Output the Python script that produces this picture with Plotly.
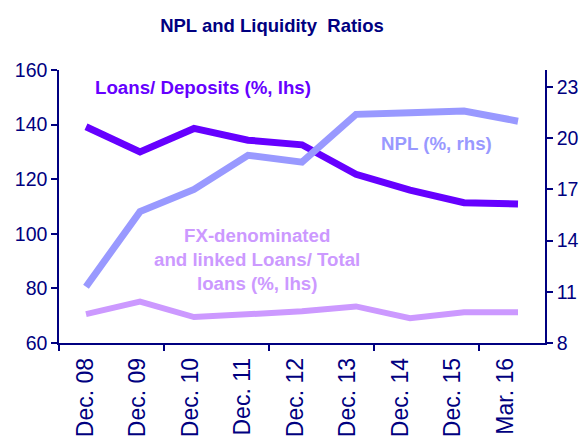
import plotly.graph_objects as go

categories = ["Dec. 08", "Dec. 09", "Dec. 10", "Dec. 11", "Dec. 12",
              "Dec. 13", "Dec. 14", "Dec. 15", "Mar. 16"]
loans_deposits = [139.2, 130.0, 138.6, 134.3, 132.6, 121.8, 116.0, 111.4, 110.9]
fx_loans = [70.6, 75.2, 69.5, 70.6, 71.6, 73.4, 69.1, 71.3, 71.3]
npl = [11.3, 15.7, 17.0, 19.0, 18.6, 21.4, 21.5, 21.6, 21.0]
left_ticks = [60, 80, 100, 120, 140, 160]
right_ticks = [8, 11, 14, 17, 20, 23]

NAVY = "#000080"
C_LOANS = "#6600FF"
C_NPL = "#9999FF"
C_FX = "#CC99FF"
FONT = "Liberation Sans, Arial, sans-serif"

idx = list(range(len(categories)))

fig = go.Figure()
fig.add_trace(go.Scatter(x=idx, y=fx_loans, mode="lines", line=dict(color=C_FX, width=6),
                         xaxis="x", yaxis="y", hoverinfo="skip"))
fig.add_trace(go.Scatter(x=idx, y=loans_deposits, mode="lines", line=dict(color=C_LOANS, width=7),
                         xaxis="x", yaxis="y", hoverinfo="skip"))
fig.add_trace(go.Scatter(x=idx, y=npl, mode="lines", line=dict(color=C_NPL, width=7),
                         xaxis="x", yaxis="y2", hoverinfo="skip"))
# carrier for the label axis
fig.add_trace(go.Scatter(x=idx, y=[None] * len(idx), mode="lines", xaxis="x2", yaxis="y",
                         hoverinfo="skip"))

W, H = 587, 441
L, R, T, B = 59, 42, 70, 98
pw, ph = W - L - R, H - T - B

def px(xp):
    return (xp - L) / pw

def py(yp):
    return (H - B - yp) / ph

fig.update_layout(
    width=W, height=H, showlegend=False,
    margin=dict(l=L, r=R, t=T, b=B, autoexpand=False),
    paper_bgcolor="white", plot_bgcolor="white",
    title=dict(text="NPL and Liquidity\u00a0 Ratios", x=272 / W, xanchor="center",
               y=1 - 26 / H, yanchor="middle",
               font=dict(family=FONT, size=18.5, color=NAVY, weight="bold")),
    xaxis=dict(range=[-0.5, len(categories) - 0.5], visible=False, fixedrange=True,
               automargin=False),
    xaxis2=dict(overlaying="x", side="bottom", anchor="y", automargin=False,
                range=[-0.5, 8.757], tickmode="array", tickvals=idx, ticktext=categories,
                tickangle=-90, ticks="", showline=True, linecolor=NAVY, linewidth=1.5,
                showgrid=False, zeroline=False, ticklabelstandoff=4,
                tickfont=dict(family=FONT, size=23, color=NAVY),
                minor=dict(tickmode="array", tickvals=[-0.5, 1.5, 3.5, 5.5, 7.5],
                           ticks="outside", ticklen=6, tickwidth=1.5, tickcolor=NAVY,
                           showgrid=False)),
    yaxis=dict(range=[60, 160], tickmode="array", tickvals=left_ticks, automargin=False,
               ticks="outside", ticklen=6, tickwidth=1.5, tickcolor=NAVY,
               showline=True, linecolor=NAVY, linewidth=1.5, showgrid=False, zeroline=False,
               tickfont=dict(family=FONT, size=19.5, color=NAVY)),
    yaxis2=dict(range=[8, 24], overlaying="y", side="right", anchor="x", automargin=False,
                tickmode="array", tickvals=right_ticks,
                ticks="outside", ticklen=6, tickwidth=1.5, tickcolor=NAVY,
                showline=True, linecolor=NAVY, linewidth=1.5, showgrid=False, zeroline=False,
                tickfont=dict(family=FONT, size=19.5, color=NAVY)),
)

ann_font = dict(family=FONT, size=18.7, weight="bold")
fig.add_annotation(text="Loans/ Deposits (%, lhs)", xref="paper", yref="paper",
                   x=px(93), y=py(87), xanchor="left", yanchor="middle", showarrow=False,
                   font=dict(**ann_font, color=C_LOANS))
fig.add_annotation(text="NPL (%, rhs)", xref="paper", yref="paper",
                   x=px(436), y=py(143), xanchor="center", yanchor="middle", showarrow=False,
                   font=dict(**ann_font, color=C_NPL))
for txt, yy in [("FX-denominated", 235), ("and linked Loans/ Total", 259), ("loans (%, lhs)", 283)]:
    fig.add_annotation(text=txt, xref="paper", yref="paper",
                       x=px(257), y=py(yy), xanchor="center", yanchor="middle", showarrow=False,
                       font=dict(**ann_font, color=C_FX))

fig.write_html("out.html", config={"displayModeBar": False},
               post_script="document.body.style.margin='0';document.body.style.overflow='hidden';")
